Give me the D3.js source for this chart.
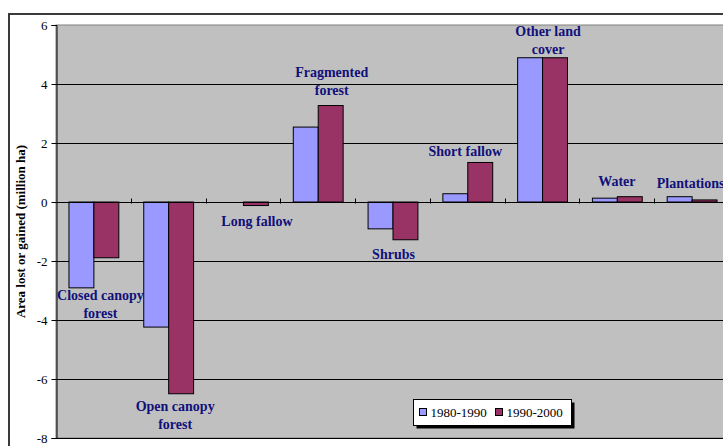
<!DOCTYPE html>
<html>
<head>
<meta charset="utf-8">
<script src="https://cdn.jsdelivr.net/npm/d3@7"></script>
<style>
  html, body { margin: 0; padding: 0; background: #ffffff; }
  svg { display: block; }
  text { font-family: "Liberation Serif", "Times New Roman", serif; }
</style>
</head>
<body>
<svg id="chart" width="723" height="446"></svg>
<script>
// Net change in land cover by class, two decades (million ha)
const categories = ["Closed canopy forest", "Open canopy forest", "Long fallow", "Fragmented forest",
                    "Shrubs", "Short fallow", "Other land cover", "Water", "Plantations"];
const series = ["1980-1990", "1990-2000"];
const change1980s = [-2.91, -4.24, 0.0, 2.54, -0.91, 0.28, 4.89, 0.13, 0.18];
const change1990s = [-1.89, -6.50, -0.12, 3.27, -1.28, 1.34, 4.89, 0.18, 0.07];
const labelLines = [["Closed canopy", "forest"], ["Open canopy", "forest"], ["Long fallow"],
                    ["Fragmented", "forest"], ["Shrubs"], ["Short fallow"], ["Other land", "cover"],
                    ["Water"], ["Plantations"]];
const yTicks = [6, 4, 2, 0, -2, -4, -6, -8];
const yTitle = "Area lost or gained (million ha)";

const colors = ["#9999ff", "#993366"];
const labelColor = "#10107a";

// Hand placement of the category labels: horizontal nudge and gap from the bar end (px)
const labelNudge = [
  { dx: 7, gap: 12 }, { dx: 7, gap: 17 }, { dx: 14, gap: 20 }, { dx: 14, gap: 11 },
  { dx: 1, gap: 19 }, { dx: -2, gap: 6 }, { dx: 6, gap: 4 }, { dx: 0, gap: 11 }, { dx: -1, gap: 9 }
];

const svg = d3.select("#chart");
const plot = { left: 56, right: 729, top: 25, bottom: 438 };

// Outer chart border
svg.append("rect")
  .attr("x", 9).attr("y", 14).attr("width", 760).attr("height", 460)
  .attr("fill", "#ffffff").attr("stroke", "#3a3a3a").attr("stroke-width", 2);

const y = d3.scaleLinear().domain([-8, 6]).range([plot.bottom, plot.top]);
const x = d3.scaleBand().domain(categories).range([plot.left, plot.right]);
const bw = x.bandwidth();
const xs = d3.scaleBand().domain(series).range([bw / 6, bw * 5 / 6]);

// Plot area
svg.append("rect")
  .attr("x", plot.left).attr("y", plot.top)
  .attr("width", plot.right - plot.left).attr("height", plot.bottom - plot.top)
  .attr("fill", "#c0c0c0").attr("stroke", "#808080").attr("stroke-width", 1);

// Horizontal gridlines
svg.append("g").selectAll("line")
  .data(yTicks.filter(t => t !== 6))
  .join("line")
  .attr("x1", plot.left).attr("x2", plot.right)
  .attr("y1", d => Math.round(y(d)) + 0.5).attr("y2", d => Math.round(y(d)) + 0.5)
  .attr("stroke", "#000000").attr("stroke-width", 1);

// Bars
const rows = categories.map((c, i) => ({ c, i, vals: [change1980s[i], change1990s[i]] }));
const groups = svg.append("g").selectAll("g")
  .data(rows).join("g")
  .attr("transform", d => `translate(${x(d.c)},0)`);

groups.selectAll("rect")
  .data(d => d.vals.map((v, k) => ({ v, k })))
  .join("rect")
  .attr("x", d => xs(series[d.k]) + 0.5)
  .attr("width", xs.bandwidth())
  .attr("y", d => y(Math.max(0, d.v)))
  .attr("height", d => Math.abs(y(d.v) - y(0)))
  .attr("fill", d => colors[d.k])
  .attr("stroke", "#000000").attr("stroke-width", 1);

// Category axis (zero line) with tick marks between categories
const zeroY = Math.round(y(0)) + 0.5;
svg.append("line")
  .attr("x1", plot.left).attr("x2", plot.right)
  .attr("y1", zeroY).attr("y2", zeroY)
  .attr("stroke", "#000000");
svg.append("g").selectAll("line")
  .data(categories.slice(1))
  .join("line")
  .attr("x1", d => Math.round(x(d)) + 0.5).attr("x2", d => Math.round(x(d)) + 0.5)
  .attr("y1", zeroY - 4).attr("y2", zeroY + 1)
  .attr("stroke", "#000000");

// Value axis (plain hyphen for negatives)
const yAxis = d3.axisLeft(y).tickValues(yTicks).tickSize(5).tickPadding(4).tickFormat(d => String(d));
const ag = svg.append("g")
  .attr("transform", `translate(${plot.left + 0.5},0)`)
  .call(yAxis);
ag.select(".domain").attr("stroke", "#000000");
ag.selectAll(".tick line").attr("stroke", "#000000");
ag.selectAll(".tick text")
  .attr("font-family", "'Liberation Serif', 'Times New Roman', serif")
  .attr("font-size", 13).attr("fill", "#000000");

// Axis title
svg.append("text")
  .attr("transform", `translate(25,${(plot.top + plot.bottom) / 2}) rotate(-90)`)
  .attr("text-anchor", "middle")
  .attr("font-size", 13).attr("font-weight", "bold").attr("fill", "#000000")
  .text(yTitle);

// Category labels placed beyond the end of each bar pair
const lineH = 18;
rows.forEach(d => {
  const hi = Math.max(0, ...d.vals);
  const lo = Math.min(0, ...d.vals);
  const up = Math.abs(hi) >= Math.abs(lo);
  const n = labelNudge[d.i];
  const lines = labelLines[d.i];
  const cx = x(d.c) + bw / 2 + n.dx;
  let firstBase;
  if (up) {
    firstBase = y(hi) - n.gap - (lines.length - 1) * lineH;
  } else {
    firstBase = y(lo) + n.gap;
  }
  const t = svg.append("text")
    .attr("text-anchor", "middle")
    .attr("font-size", 14).attr("font-weight", "bold").attr("fill", labelColor);
  lines.forEach((s, j) => {
    t.append("tspan").attr("x", cx).attr("y", firstBase + j * lineH).text(s);
  });
});

// Legend with drop shadow
const lg = svg.append("g").attr("transform", "translate(413.5,399.5)");
lg.append("rect").attr("x", 3).attr("y", 3).attr("width", 158).attr("height", 26).attr("fill", "#000000");
lg.append("rect").attr("width", 158).attr("height", 26).attr("fill", "#ffffff").attr("stroke", "#000000");
const legendX = [6, 82];
series.forEach((s, k) => {
  lg.append("rect")
    .attr("x", legendX[k]).attr("y", 9).attr("width", 7).attr("height", 7)
    .attr("fill", colors[k]).attr("stroke", "#000000");
  lg.append("text")
    .attr("x", legendX[k] + 11).attr("y", 17.5)
    .attr("font-size", 13).attr("fill", "#000000")
    .text(s);
});
</script>
</body>
</html>
